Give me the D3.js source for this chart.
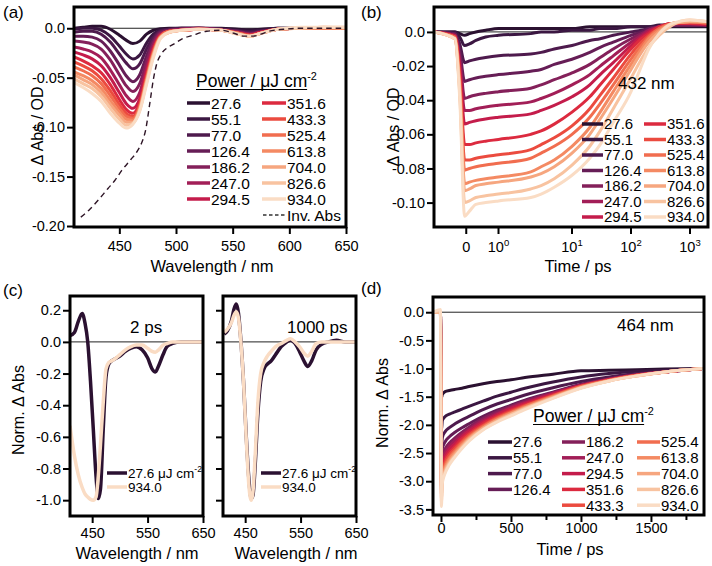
<!DOCTYPE html>
<html><head><meta charset="utf-8">
<script src="https://cdn.jsdelivr.net/npm/d3@7"></script>
<style>
html,body{margin:0;padding:0;background:#fff;}
svg{display:block;}
</style></head><body>
<svg id="chart" width="712" height="566"></svg>
<script>
// ---------------- DATA ----------------
const powers = ["27.6","55.1","77.0","126.4","186.2","247.0","294.5","351.6","433.3","525.4","613.8","704.0","826.6","934.0"];
const colors = ["#2b1131","#3b1742","#4e1a4d","#661d56","#84205a","#a21e57","#c41c4b","#dc2a3f","#eb4b3f","#f16d4f","#f48a63","#f6a67f","#f8c3a0","#fadcc4"];

// (a) transient spectra
const aWavelength = [410,418,426,434,442,450,456,462,468,474,480,486,494,505,520,540,555,565,575,590,610,630,650];
const aDeltaAbs = [
 [0.000,0.001,0.002,0.002,-0.001,-0.007,-0.012,-0.0155,-0.013,-0.006,-0.002,-0.0005,0.000,0.000,0.000,0.000,-0.001,-0.0015,-0.001,0.000,0.000,0.000,0.000],
 [-0.001,0.000,0.000,-0.002,-0.008,-0.018,-0.026,-0.031,-0.027,-0.015,-0.006,-0.002,-0.001,0.000,0.000,-0.001,-0.002,-0.003,-0.002,0.000,0.000,0.000,0.000],
 [-0.004,-0.003,-0.003,-0.006,-0.014,-0.026,-0.035,-0.041,-0.036,-0.021,-0.009,-0.003,-0.001,0.000,0.000,-0.001,-0.003,-0.004,-0.003,-0.001,0.000,0.000,0.000],
 [-0.008,-0.008,-0.009,-0.013,-0.023,-0.037,-0.048,-0.054,-0.047,-0.028,-0.012,-0.004,-0.002,-0.001,0.000,-0.001,-0.003,-0.005,-0.003,-0.001,0.000,0.000,0.000],
 [-0.013,-0.014,-0.016,-0.021,-0.032,-0.047,-0.058,-0.064,-0.056,-0.034,-0.015,-0.005,-0.002,-0.001,0.000,-0.002,-0.004,-0.006,-0.004,-0.001,0.000,0.000,0.000],
 [-0.019,-0.021,-0.024,-0.030,-0.042,-0.057,-0.068,-0.074,-0.065,-0.040,-0.018,-0.006,-0.003,-0.001,0.000,-0.002,-0.004,-0.006,-0.004,-0.001,0.000,0.000,0.000],
 [-0.024,-0.027,-0.031,-0.038,-0.050,-0.065,-0.076,-0.081,-0.071,-0.044,-0.020,-0.007,-0.003,-0.002,-0.001,-0.002,-0.005,-0.007,-0.004,-0.001,0.000,0.000,0.000],
 [-0.029,-0.033,-0.038,-0.045,-0.057,-0.072,-0.082,-0.086,-0.075,-0.047,-0.022,-0.008,-0.003,-0.002,-0.001,-0.002,-0.005,-0.007,-0.004,-0.001,0.000,0.000,0.000],
 [-0.034,-0.038,-0.043,-0.051,-0.063,-0.077,-0.086,-0.089,-0.078,-0.050,-0.023,-0.008,-0.003,-0.002,-0.001,-0.002,-0.005,-0.007,-0.005,-0.001,0.000,0.000,0.000],
 [-0.039,-0.043,-0.048,-0.056,-0.068,-0.081,-0.089,-0.091,-0.079,-0.051,-0.025,-0.009,-0.003,-0.002,-0.001,-0.002,-0.005,-0.008,-0.005,-0.001,0.000,0.000,0.000],
 [-0.044,-0.048,-0.053,-0.061,-0.073,-0.085,-0.092,-0.093,-0.081,-0.053,-0.026,-0.009,-0.004,-0.002,-0.001,-0.002,-0.005,-0.008,-0.005,-0.001,0.000,0.000,0.000],
 [-0.047,-0.052,-0.057,-0.065,-0.077,-0.088,-0.095,-0.095,-0.082,-0.054,-0.027,-0.010,-0.004,-0.002,-0.001,-0.002,-0.006,-0.008,-0.005,-0.001,0.000,0.001,0.000],
 [-0.051,-0.056,-0.061,-0.069,-0.081,-0.092,-0.098,-0.096,-0.083,-0.055,-0.028,-0.010,-0.004,-0.002,-0.001,-0.002,-0.006,-0.008,-0.005,-0.001,0.000,0.001,0.001],
 [-0.055,-0.060,-0.066,-0.074,-0.086,-0.096,-0.101,-0.097,-0.084,-0.057,-0.030,-0.011,-0.004,-0.002,-0.001,-0.002,-0.006,-0.008,-0.005,-0.001,0.001,0.001,0.001]
];
const invAbsWavelength = [416,424,432,440,446,452,460,466,470,473,477,480,483,487,492,498,505,515,527,540,551,560,568,575,582,595,610,630,650];
const invAbs = [-0.191,-0.183,-0.173,-0.162,-0.154,-0.144,-0.133,-0.124,-0.115,-0.104,-0.075,-0.052,-0.036,-0.026,-0.020,-0.016,-0.011,-0.007,-0.003,-0.002,-0.005,-0.008,-0.008,-0.006,-0.003,-0.001,0.000,0.000,0.000];
const aXTicks = [450,500,550,600,650];
const aXTickLabels = ["450","500","550","600","650"];
const aYTicks = [0,-0.05,-0.10,-0.15,-0.20];
const aYTickLabels = ["0.0","-0.05","-0.10","-0.15","-0.20"];

// (b) kinetics at 432 nm
const bTime = [-1,-0.35,-0.2,-0.05,0.1,0.3,0.6,1,2,3,5,10,20,30,50,100,150,200,300,500,1000,2000];
const bDeltaAbs = [
 [0,0,-0.001,-0.002,-0.001,0.000,0.001,0.002,0.002,0.002,0.002,0.002,0.003,0.003,0.003,0.003,0.003,0.003,0.003,0.003,0.003,0.003],
 [0,0,-0.003,-0.008,-0.007,-0.005,-0.003,-0.002,-0.001,0.000,0.000,0.001,0.001,0.002,0.002,0.003,0.003,0.003,0.004,0.004,0.004,0.004],
 [0,-0.001,-0.007,-0.018,-0.017,-0.016,-0.015,-0.014,-0.013,-0.012,-0.010,-0.008,-0.005,-0.004,-0.002,0.000,0.001,0.002,0.003,0.004,0.004,0.004],
 [0,-0.001,-0.011,-0.029,-0.028,-0.027,-0.026,-0.025,-0.023,-0.022,-0.019,-0.016,-0.012,-0.009,-0.006,-0.002,0.000,0.002,0.003,0.004,0.004,0.004],
 [0,-0.002,-0.015,-0.039,-0.038,-0.037,-0.036,-0.035,-0.033,-0.031,-0.028,-0.024,-0.019,-0.015,-0.010,-0.004,-0.001,0.001,0.003,0.004,0.004,0.004],
 [0,-0.002,-0.018,-0.046,-0.046,-0.045,-0.044,-0.043,-0.041,-0.039,-0.036,-0.031,-0.025,-0.020,-0.014,-0.006,-0.002,0.001,0.003,0.005,0.005,0.004],
 [0,-0.002,-0.021,-0.054,-0.053,-0.052,-0.051,-0.050,-0.048,-0.046,-0.043,-0.038,-0.031,-0.025,-0.018,-0.008,-0.003,0.000,0.003,0.005,0.005,0.004],
 [0,-0.003,-0.025,-0.066,-0.066,-0.065,-0.064,-0.063,-0.060,-0.058,-0.054,-0.047,-0.038,-0.031,-0.022,-0.010,-0.004,-0.001,0.003,0.005,0.005,0.005],
 [0,-0.003,-0.028,-0.075,-0.075,-0.074,-0.073,-0.072,-0.069,-0.066,-0.062,-0.055,-0.045,-0.037,-0.027,-0.013,-0.006,-0.002,0.002,0.005,0.006,0.005],
 [0,-0.003,-0.030,-0.081,-0.080,-0.079,-0.078,-0.077,-0.074,-0.071,-0.067,-0.060,-0.050,-0.042,-0.031,-0.016,-0.008,-0.003,0.002,0.005,0.006,0.005],
 [0,-0.004,-0.033,-0.089,-0.088,-0.087,-0.086,-0.085,-0.082,-0.079,-0.075,-0.067,-0.056,-0.047,-0.035,-0.019,-0.010,-0.004,0.001,0.005,0.006,0.006],
 [0,-0.004,-0.035,-0.093,-0.092,-0.090,-0.089,-0.088,-0.085,-0.083,-0.079,-0.071,-0.060,-0.051,-0.039,-0.022,-0.012,-0.006,0.000,0.005,0.006,0.006],
 [0,-0.004,-0.037,-0.100,-0.099,-0.097,-0.096,-0.095,-0.092,-0.090,-0.086,-0.078,-0.067,-0.058,-0.045,-0.027,-0.016,-0.009,-0.002,0.004,0.007,0.006],
 [0,-0.004,-0.040,-0.108,-0.105,-0.101,-0.100,-0.099,-0.097,-0.095,-0.091,-0.084,-0.074,-0.066,-0.053,-0.035,-0.020,-0.010,-0.001,0.005,0.007,0.006]
];
const bXTicks = [0,1,10,100,1000];
const bXTickBase = ["0","10","10","10","10"];
const bXTickExp = ["","0","1","2","3"];
const bYTicks = [0,-0.02,-0.04,-0.06,-0.08,-0.10];
const bYTickLabels = ["0.0","-0.02","-0.04","-0.06","-0.08","-0.10"];

// (c) normalised spectra
const c2psWavelength = [410,418,425,432,437,442,447,452,457,461,465,470,475,480,485,490,500,510,520,530,540,550,558,564,570,578,585,595,610,630,650];
const c2psLow = [0.04,0.06,0.13,0.18,0.12,0.00,-0.25,-0.55,-0.85,-0.99,-0.93,-0.55,-0.22,-0.14,-0.12,-0.11,-0.09,-0.06,-0.04,-0.03,-0.05,-0.10,-0.17,-0.19,-0.15,-0.08,-0.03,-0.01,0.00,0.00,0.00];
const c2psHigh = [-0.53,-0.72,-0.84,-0.92,-0.96,-0.98,-0.995,-1.00,-0.98,-0.85,-0.65,-0.38,-0.17,-0.13,-0.12,-0.11,-0.08,-0.05,-0.03,-0.02,-0.02,-0.04,-0.06,-0.065,-0.05,-0.02,-0.01,0.00,0.00,0.00,0.00];
const c1000psWavelength = [412,418,425,430,434,438,442,447,452,457,461,464,468,473,478,484,490,497,505,515,525,532,540,548,556,563,570,578,588,600,615,630,650];
const c1000psLow = [0.05,0.07,0.13,0.21,0.24,0.18,0.02,-0.25,-0.60,-0.88,-0.99,-0.97,-0.78,-0.45,-0.25,-0.17,-0.14,-0.12,-0.08,-0.03,0.00,0.01,-0.01,-0.06,-0.12,-0.155,-0.12,-0.05,-0.015,0.00,0.01,0.00,0.00];
const c1000psHigh = [0.06,0.08,0.12,0.17,0.19,0.15,0.01,-0.25,-0.62,-0.92,-1.00,-0.95,-0.72,-0.38,-0.20,-0.13,-0.09,-0.06,-0.03,-0.01,0.01,0.02,0.00,-0.03,-0.07,-0.09,-0.06,-0.01,0.00,0.00,0.00,0.00,0.00];
const cXTicks = [450,550,650];
const cXTickLabels = ["450","550","650"];
const cYTicks = [0.2,0,-0.2,-0.4,-0.6,-0.8,-1.0];
const cYTickLabels = ["0.2","0.0","-0.2","-0.4","-0.6","-0.8","-1.0"];

// (d) normalised kinetics at 464 nm
const dTime = [-57,-4,3,10,30,60,100,150,200,300,400,500,600,800,1000,1200,1400,1600,1870];
const dNormAbs = [
 [0,0,-1.52,-1.46,-1.41,-1.39,-1.37,-1.35,-1.32,-1.27,-1.23,-1.20,-1.16,-1.10,-1.04,-1.03,-1.02,-1.01,-1.00],
 [0,0,-2.10,-1.92,-1.85,-1.81,-1.77,-1.72,-1.67,-1.58,-1.49,-1.42,-1.35,-1.24,-1.15,-1.09,-1.05,-1.03,-1.00],
 [0,0,-2.42,-2.22,-2.12,-2.05,-1.98,-1.91,-1.85,-1.73,-1.63,-1.55,-1.47,-1.34,-1.23,-1.15,-1.09,-1.05,-1.00],
 [0,0,-2.62,-2.42,-2.30,-2.21,-2.13,-2.05,-1.98,-1.85,-1.74,-1.65,-1.56,-1.42,-1.28,-1.18,-1.11,-1.06,-1.00],
 [0,0,-2.75,-2.55,-2.42,-2.32,-2.23,-2.13,-2.04,-1.89,-1.77,-1.67,-1.58,-1.43,-1.29,-1.19,-1.11,-1.06,-1.00],
 [0,0,-2.84,-2.62,-2.49,-2.38,-2.28,-2.17,-2.08,-1.92,-1.80,-1.69,-1.60,-1.44,-1.30,-1.19,-1.11,-1.06,-1.00],
 [0,0,-2.93,-2.69,-2.55,-2.43,-2.33,-2.21,-2.11,-1.95,-1.82,-1.71,-1.62,-1.45,-1.30,-1.20,-1.12,-1.06,-1.00],
 [0,0,-3.02,-2.76,-2.61,-2.49,-2.38,-2.25,-2.15,-1.98,-1.85,-1.74,-1.64,-1.47,-1.31,-1.20,-1.12,-1.06,-1.00],
 [0,0,-3.10,-2.82,-2.66,-2.53,-2.42,-2.29,-2.18,-2.01,-1.87,-1.76,-1.66,-1.48,-1.32,-1.21,-1.12,-1.06,-1.00],
 [0,0,-3.17,-2.87,-2.71,-2.58,-2.46,-2.32,-2.21,-2.03,-1.89,-1.78,-1.67,-1.49,-1.32,-1.21,-1.12,-1.06,-1.00],
 [0,0,-3.24,-2.91,-2.75,-2.61,-2.49,-2.35,-2.23,-2.05,-1.91,-1.79,-1.69,-1.50,-1.33,-1.21,-1.13,-1.06,-1.00],
 [0,0,-3.31,-2.95,-2.79,-2.65,-2.52,-2.38,-2.25,-2.06,-1.92,-1.81,-1.70,-1.51,-1.34,-1.22,-1.13,-1.06,-1.00],
 [0,0,-3.38,-2.99,-2.83,-2.68,-2.55,-2.40,-2.27,-2.08,-1.94,-1.82,-1.71,-1.52,-1.34,-1.22,-1.13,-1.06,-1.00],
 [0,0.05,-3.45,-3.03,-2.86,-2.71,-2.57,-2.42,-2.29,-2.09,-1.95,-1.84,-1.73,-1.53,-1.35,-1.22,-1.13,-1.06,-1.00]
];
const dXTicks = [0,500,1000,1500];
const dXTickLabels = ["0","500","1000","1500"];
const dXMinorTicks = [250,750,1250,1750];
const dYTicks = [0,-0.5,-1.0,-1.5,-2.0,-2.5,-3.0,-3.5];
const dYTickLabels = ["0.0","-0.5","-1.0","-1.5","-2.0","-2.5","-3.0","-3.5"];

// ---------------- DRAWING ----------------
const FONT = '"Liberation Sans", Arial, Helvetica, sans-serif';
const svg = d3.select("#chart").attr("font-family", FONT);

const boxA = {x0:74, x1:346, y0:7, y1:227};
const boxB = {x0:434, x1:708, y0:7, y1:227};
const boxC1 = {x0:70, x1:203, y0:296, y1:516};
const boxC2 = {x0:223, x1:356, y0:296, y1:516};
const boxD = {x0:433, x1:704, y0:297, y1:515};

function clip(id, b){
  svg.append("clipPath").attr("id", id).append("rect")
    .attr("x", b.x0).attr("y", b.y0).attr("width", b.x1-b.x0).attr("height", b.y1-b.y0);
}
function frame(b){
  svg.append("rect").attr("x", b.x0).attr("y", b.y0).attr("width", b.x1-b.x0).attr("height", b.y1-b.y0)
    .attr("fill","none").attr("stroke","#000").attr("stroke-width",3);
}
function zero(b, y){
  svg.append("line").attr("x1", b.x0).attr("x2", b.x1).attr("y1", y).attr("y2", y)
    .attr("stroke","#222").attr("stroke-width",1);
}
function styleAxis(g, size){
  g.attr("font-family", FONT);
  g.select(".domain").remove();
  g.selectAll(".tick line").attr("stroke","#000").attr("stroke-width",2);
  g.selectAll(".tick text").attr("font-size", size).attr("fill","#000");
}
function leftAxis(scale, b, vals, labels){
  const g = svg.append("g").attr("transform", `translate(${b.x0},0)`)
    .call(d3.axisLeft(scale).tickValues(vals).tickFormat((d,i)=> labels ? labels[i] : "").tickSize(7).tickPadding(2));
  styleAxis(g, 14.5);
}
function bottomAxis(scale, b, vals, labels, size, pad){
  const g = svg.append("g").attr("transform", `translate(0,${b.y1})`)
    .call(d3.axisBottom(scale).tickValues(vals).tickFormat((d,i)=> labels ? labels[i] : "").tickSize(size||7).tickPadding(pad==null?5:pad));
  styleAxis(g, 14.5);
}
function label(x, y, str, size, anchor, rotate){
  const t = svg.append("text").attr("x", x).attr("y", y).attr("font-size", size)
    .attr("text-anchor", anchor||"start").attr("fill","#000").text(str);
  if (rotate) t.attr("transform", `rotate(-90,${x},${y})`);
  return t;
}
function drawLines(clipId, xs, series, xScale, yScale, cols, width, curve){
  const g = svg.append("g").attr("clip-path", `url(#${clipId})`);
  series.forEach((ys, k) => {
    const line = d3.line().x((d,i)=>xScale(xs[i])).y(d=>yScale(d)).curve(curve || d3.curveMonotoneX);
    g.append("path").attr("d", line(ys)).attr("fill","none")
      .attr("stroke", cols[k]).attr("stroke-width", width).attr("stroke-linejoin","round");
  });
  return g;
}
function legendItem(x1, x2, y, color, text, size, dashed){
  const l = svg.append("line").attr("x1", x1).attr("x2", x2).attr("y1", y).attr("y2", y)
    .attr("stroke", color).attr("stroke-width", dashed ? 1.3 : 3.5);
  if (dashed) l.attr("stroke-dasharray","3.5,2.5");
  svg.append("text").attr("x", x2 + 1).attr("y", y + size*0.36).attr("font-size", size)
    .attr("fill","#000").text(text);
}
function powerTitle(x, y, size){
  const t = svg.append("text").attr("x", x).attr("y", y).attr("font-size", size).attr("fill","#000");
  t.append("tspan").text("Power / \u03bcJ cm");
  t.append("tspan").attr("font-size", size*0.62).attr("dy", -size*0.42).text("-2");
  const bb = t.node().getBBox();
  svg.append("line").attr("x1", bb.x).attr("x2", bb.x + bb.width - size*0.62*0.9)
    .attr("y1", y + 2.5).attr("y2", y + 2.5).attr("stroke","#000").attr("stroke-width",1.2);
}

// ---- (a)
const ax = d3.scaleLinear().domain([410,650]).range([boxA.x0, boxA.x1]);
const ay = d3.scaleLinear().domain([-0.201,0.0215]).range([boxA.y1, boxA.y0]);
clip("clipA", boxA);
zero(boxA, ay(0));
drawLines("clipA", aWavelength, aDeltaAbs, ax, ay, colors, 3);
svg.append("g").attr("clip-path","url(#clipA)").append("path")
  .attr("d", d3.line().x((d,i)=>ax(invAbsWavelength[i])).y(d=>ay(d)).curve(d3.curveMonotoneX)(invAbs))
  .attr("fill","none").attr("stroke","#2e1526").attr("stroke-width",1.4).attr("stroke-dasharray","5.5,4");
frame(boxA);
leftAxis(ay, boxA, aYTicks, aYTickLabels);
bottomAxis(ax, boxA, aXTicks, aXTickLabels, 7, 7);
label(43, 126, "\u0394 Abs / OD", 16, "middle", true);
label(212, 272, "Wavelength / nm", 16.5, "middle");
label(3, 18, "(a)", 17);
powerTitle(196, 87, 17.5);
powers.forEach((p, i) => {
  const col = i < 7 ? 0 : 1, row = i % 7;
  const x1 = col === 0 ? 187 : 262, x2 = col === 0 ? 210 : 286;
  legendItem(x1, x2, 103 + row*16, colors[i], p, 15.5);
});
legendItem(263, 286, 215, "#333", "Inv. Abs", 15.5, true);

// ---- (b)
const bLog = d3.scaleLog().domain([10,1000]).range([572,690]);
const bLin = d3.scaleLinear().domain([-1,2]).range([boxB.x0, bLog(2)]);
const bx = t => (t < 2 ? bLin(t) : bLog(t));
const by = d3.scaleLinear().domain([-0.1143,0.0146]).range([boxB.y1, boxB.y0]);
clip("clipB", boxB);
zero(boxB, by(0));
drawLines("clipB", bTime, bDeltaAbs, bx, by, colors, 3);
frame(boxB);
leftAxis(by, boxB, bYTicks, bYTickLabels);
{
  const g = svg.append("g").attr("font-family", FONT);
  bXTicks.forEach((t, i) => {
    const x = bx(t);
    g.append("line").attr("x1", x).attr("x2", x).attr("y1", boxB.y1).attr("y2", boxB.y1 + 7)
      .attr("stroke","#000").attr("stroke-width",2);
    const tx = g.append("text").attr("x", x).attr("y", boxB.y1 + 25).attr("font-size",14.5)
      .attr("text-anchor","middle").attr("fill","#000");
    tx.append("tspan").text(bXTickBase[i]);
    if (bXTickExp[i]) tx.append("tspan").attr("font-size",9.5).attr("dy",-6.5).text(bXTickExp[i]);
  });
}
label(399, 127, "\u0394 Abs / OD", 16, "middle", true);
label(578, 272, "Time / ps", 16.5, "middle");
label(361, 18, "(b)", 17);
label(618, 89, "432 nm", 17);
powers.forEach((p, i) => {
  const col = i < 7 ? 0 : 1, row = i % 7;
  const x1 = col === 0 ? 582 : 644, x2 = col === 0 ? 603 : 666;
  legendItem(x1, x2, 124 + row*15.5, colors[i], p, 15);
});

// ---- (c)
const cy = d3.scaleLinear().domain([-1.10,0.29]).range([boxC1.y1, boxC1.y0]);
const cx1 = d3.scaleLinear().domain([410,650]).range([boxC1.x0, boxC1.x1]);
const cx2 = d3.scaleLinear().domain([410,650]).range([boxC2.x0, boxC2.x1]);
const cCols = [colors[0], colors[13]];
clip("clipC1", boxC1); clip("clipC2", boxC2);
zero(boxC1, cy(0)); zero(boxC2, cy(0));
drawLines("clipC1", c2psWavelength, [c2psLow, c2psHigh], cx1, cy, cCols, 3.5);
drawLines("clipC2", c1000psWavelength, [c1000psLow, c1000psHigh], cx2, cy, cCols, 3.5);
frame(boxC1); frame(boxC2);
leftAxis(cy, boxC1, cYTicks, cYTickLabels);
leftAxis(cy, boxC2, cYTicks, null);
bottomAxis(cx1, boxC1, cXTicks, cXTickLabels);
bottomAxis(cx2, boxC2, cXTicks, cXTickLabels);
label(24, 410, "Norm. \u0394 Abs", 16, "middle", true);
label(137, 559, "Wavelength / nm", 16.5, "middle");
label(296, 559, "Wavelength / nm", 16.5, "middle");
label(3, 296, "(c)", 17);
label(130, 333, "2 ps", 17);
label(287, 333, "1000 ps", 17);
[[107,127],[261,281]].forEach(([x1,x2]) => {
  svg.append("line").attr("x1",x1).attr("x2",x2).attr("y1",473).attr("y2",473).attr("stroke",cCols[0]).attr("stroke-width",3.5);
  const t = svg.append("text").attr("x", x2+1).attr("y", 478).attr("font-size",13.5).attr("fill","#000");
  t.append("tspan").text(powers[0] + " \u03bcJ cm");
  t.append("tspan").attr("font-size",8.5).attr("dy",-6).text("-2");
  svg.append("line").attr("x1",x1).attr("x2",x2).attr("y1",487).attr("y2",487).attr("stroke",cCols[1]).attr("stroke-width",3.5);
  svg.append("text").attr("x", x2+1).attr("y", 492).attr("font-size",13.5).attr("fill","#000").text(powers[13]);
});

// ---- (d)
const dx = d3.scaleLinear().domain([-57,1879]).range([boxD.x0, boxD.x1]);
const dy = d3.scaleLinear().domain([-3.6,0.27]).range([boxD.y1, boxD.y0]);
clip("clipD", boxD);
zero(boxD, dy(0));
drawLines("clipD", dTime, dNormAbs, dx, dy, colors, 3, d3.curveMonotoneX);
frame(boxD);
leftAxis(dy, boxD, dYTicks, dYTickLabels);
bottomAxis(dx, boxD, dXTicks, dXTickLabels, 7, 1);
bottomAxis(dx, boxD, dXMinorTicks, null, 5, 1);
label(388, 403, "Norm. \u0394 Abs", 16, "middle", true);
label(570, 555, "Time / ps", 16.5, "middle");
label(361, 294, "(d)", 17);
label(617, 331, "464 nm", 17);
powerTitle(533, 422, 17.5);
const dCols = [[0,1,2,3],[4,5,6,7,8],[9,10,11,12,13]];
const dColX = [[488,512],[562,585],[637,660]];
dCols.forEach((idxs, c) => idxs.forEach((i, r) => {
  legendItem(dColX[c][0], dColX[c][1], 442 + r*15.8, colors[i], powers[i], 15);
}));
</script>
</body></html>
